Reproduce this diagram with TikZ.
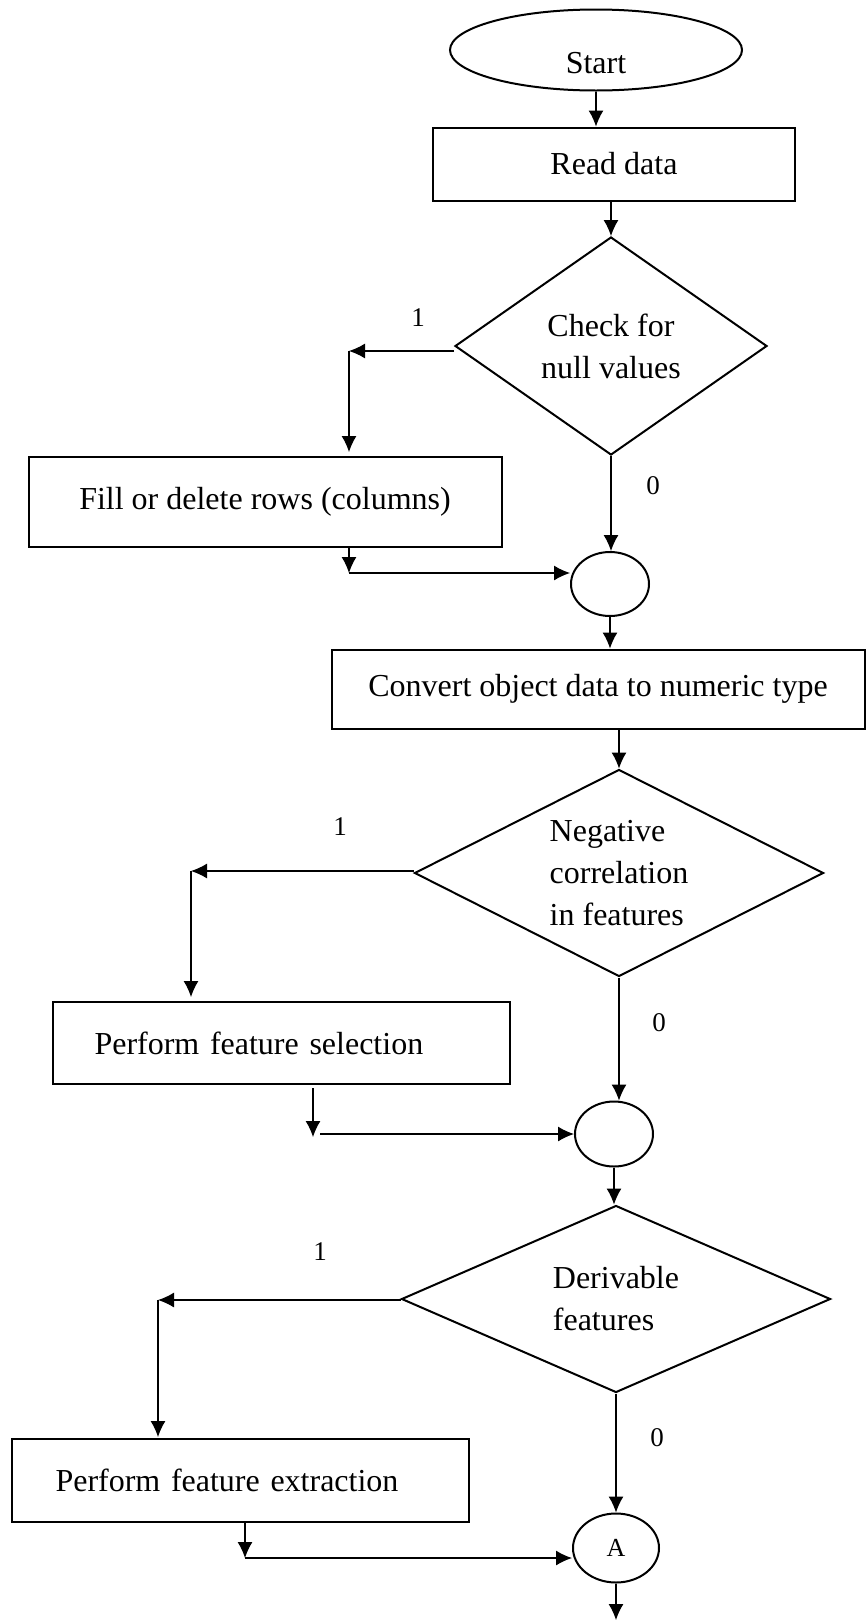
\documentclass[tikz,border=0pt]{standalone}
\usepackage{fontspec}
\setmainfont{Liberation Serif}
\usetikzlibrary{arrows.meta,shapes,positioning,calc}

\begin{document}
\begin{tikzpicture}
[x=1pt,y=-1pt%
,every node/.style={draw=black,%
                    line width=2pt,%
                    inner sep=0pt,%
                    font=\fontsize{32}{42}\selectfont}%
,stepbox/.style={rectangle}%
,test/.style={diamond,align=center}%
,joint/.style={ellipse}%
,flag/.style={draw=none,font=\fontsize{27}{32}\selectfont}%
,arr/.style={line width=1.2pt,-{Latex[length=16pt,width=15pt]}}]
\useasboundingbox (0,0) rectangle (867,1620);
% boxes
\node[joint,minimum width=292pt,minimum height=81pt,text height=46pt,text depth=0pt] (start) at (596,50) {Start};
\node[stepbox,minimum width=362pt,minimum height=73pt] (read) at (614,164) {Read data};
\node[test,aspect=1.4,minimum width=312pt,minimum height=218pt] (check) at (611,346) {Check for\\null values};
\node[stepbox,minimum width=473pt,minimum height=90pt] (fill) at (265,502) {Fill or delete rows (columns)};
\node[joint,minimum width=78pt,minimum height=64pt] (merge1) at (610,584) {};
\node[stepbox,minimum width=533pt,minimum height=79pt] (convert) at (598,689) {Convert object data to numeric type};
\node[test,aspect=2,align=left,minimum width=409pt,minimum height=207pt] (negcorr) at (619,873) {Negative\\correlation\\in features};
\node[stepbox,align=left,text width=373pt,inner xsep=42pt,minimum height=82pt] (select) at (281,1043) {Perform feature selection};
\node[joint,minimum width=78pt,minimum height=65pt] (merge2) at (614,1134) {};
\node[test,aspect=2.3,align=left,minimum width=429pt,minimum height=187pt] (derive) at (616,1299) {Derivable\\features};
\node[stepbox,align=left,text width=369pt,inner xsep=44pt,minimum height=83pt] (extract) at (240,1480) {Perform feature extraction};
\node[joint,minimum width=86pt,minimum height=69pt,font=\fontsize{26}{30}\selectfont] (conA) at (616,1548) {A};
% branch labels
\node[flag] (one1) at (418,318) {1};
\node[flag] (zero1) at (653,486) {0};
\node[flag] (one2) at (340,827) {1};
\node[flag] (zero2) at (659,1023) {0};
\node[flag] (one3) at (320,1252) {1};
\node[flag] (zero3) at (657,1438) {0};
% bends
\coordinate (k1) at (349,351);
\coordinate (k1e) at (349,452);
\coordinate (m1) at (349,573);
\coordinate (k2) at (191,871);
\coordinate (k2e) at (191,997);
\coordinate (m2) at (313,1088);
\coordinate (m2e) at (313,1137);
\coordinate (m2h) at (320,1134);
\coordinate (k3) at (158,1300);
\coordinate (k3e) at (158,1437);
\coordinate (m3) at (245,1558);
\coordinate (fin) at (616,1620);
% arrows
\draw[arr] (start.south) -- (start.south |- read.north);
\draw[arr] (read.south -| check.north) -- (check.north);
\draw[arr] (k1 -| check.west) -- (k1);
\draw[arr] (k1) -- (k1e);
\draw[arr] (check.south) -- (check.south |- merge1.north);
\draw[arr] (m1 |- fill.south) -- (m1);
\draw[arr] (m1) -- (m1 -| merge1.west);
\draw[arr] (merge1.south) -- (merge1.south |- convert.north);
\draw[arr] (convert.south -| negcorr.north) -- (negcorr.north);
\draw[arr] (k2 -| negcorr.west) -- (k2);
\draw[arr] (k2) -- (k2e);
\draw[arr] (negcorr.south) -- (negcorr.south |- merge2.north);
\draw[arr] (m2) -- (m2e);
\draw[arr] (m2h) -- (m2h -| merge2.west);
\draw[arr] (merge2.south) -- (merge2.south |- derive.north);
\draw[arr] (k3 -| derive.west) -- (k3);
\draw[arr] (k3) -- (k3e);
\draw[arr] (derive.south) -- (derive.south |- conA.north);
\draw[arr] (m3 |- extract.south) -- (m3);
\draw[arr] (m3) -- (m3 -| conA.west);
\draw[arr] (conA.south) -- (conA.south |- fin);
\end{tikzpicture}
\end{document}
